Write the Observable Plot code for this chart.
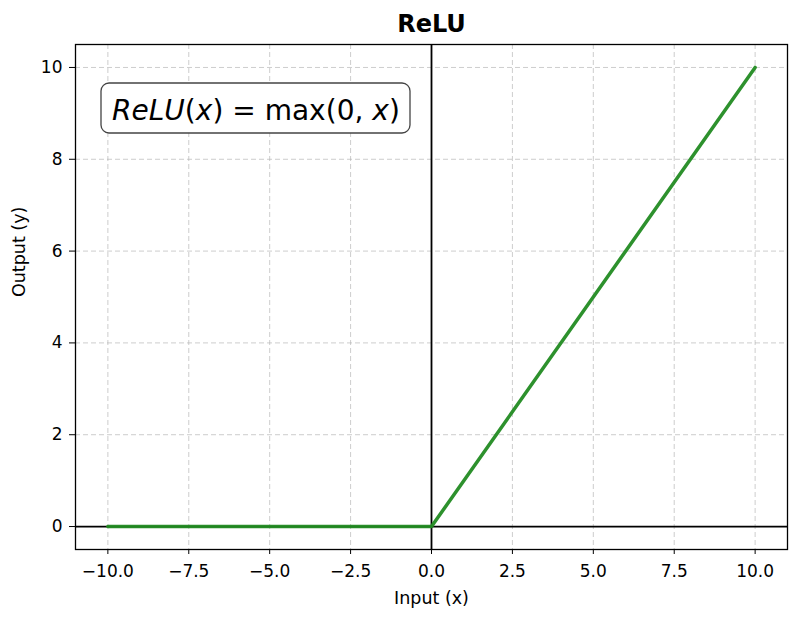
<!DOCTYPE html>
<html>
<head>
<meta charset="utf-8">
<script src="https://cdn.jsdelivr.net/npm/d3@7"></script>
<script src="https://cdn.jsdelivr.net/npm/@observablehq/plot@0.6"></script>
<style>
  html, body { margin: 0; padding: 0; background: white; }
</style>
</head>
<body>
<div id="chart"></div>
<script>
// Data (breakpoints of the ReLU curve)
const inputX = [-10, 0, 10];
const outputY = [0, 0, 10];
const xTicks = [-10, -7.5, -5, -2.5, 0, 2.5, 5, 7.5, 10];
const yTicks = [0, 2, 4, 6, 8, 10];
const titleText = "ReLU";
const xLabel = "Input (x)";
const yLabel = "Output (y)";
// formula pieces: [text, italic]
const formula = [["ReLU", true], ["(", false], ["x", true], [")", false], [" = ", false], ["max(0, ", false], ["x", true], [")", false]];

const data = inputX.map((x, i) => ({x, y: outputY[i]}));

const annotation = (index, scales, values, dims) => {
  const g = d3.create("svg:g");
  const x0 = dims.marginLeft + 26, y0 = dims.marginTop + 39;
  g.append("rect")
    .attr("x", x0).attr("y", y0).attr("width", 309).attr("height", 50)
    .attr("rx", 8).attr("fill", "white").attr("stroke", "#444").attr("stroke-width", 1.3);
  const t = g.append("text")
    .attr("id", "formula")
    .attr("x", x0 + 11).attr("y", y0 + 37)
    .attr("text-anchor", "start")
    .attr("font-family", "DejaVu Sans").attr("font-size", 28).attr("fill", "black");
  formula.forEach(([s, it]) => {
    t.append("tspan").attr("font-style", it ? "italic" : "normal").attr("xml:space", "preserve").text(s);
  });
  return g.node();
};

const chart = Plot.plot({
  width: 800,
  height: 619,
  marginLeft: 75,
  marginRight: 13,
  marginTop: 44,
  marginBottom: 70,
  x: {domain: [-11, 11]},
  y: {domain: [-0.5, 10.5]},
  style: {fontFamily: "DejaVu Sans", fontSize: "17px", background: "white", color: "black"},
  marks: [
    Plot.gridX(xTicks, {stroke: "#b0b0b0", strokeOpacity: 0.7, strokeDasharray: "5,3", strokeWidth: 0.9}),
    Plot.gridY(yTicks, {stroke: "#b0b0b0", strokeOpacity: 0.7, strokeDasharray: "5,3", strokeWidth: 0.9}),
    Plot.ruleY([0], {stroke: "black", strokeWidth: 1.8}),
    Plot.ruleX([0], {stroke: "black", strokeWidth: 1.8}),
    Plot.line(data, {x: "x", y: "y", stroke: "#228B22", strokeWidth: 3.5, strokeOpacity: 0.95}),
    Plot.frame({stroke: "black", strokeWidth: 1.3}),
    Plot.axisX(xTicks, {tickFormat: d3.format(".1f"), tickSize: 5, tickPadding: 10, label: null, fontSize: 17}),
    Plot.axisY(yTicks, {tickSize: 6, tickPadding: 7, label: null, fontSize: 17}),
    Plot.text([titleText], {frameAnchor: "top", lineAnchor: "middle", dy: -20, fontWeight: "bold", fontSize: 24}),
    Plot.text([xLabel], {frameAnchor: "bottom", lineAnchor: "middle", dy: 49, fontSize: 17.5}),
    Plot.text([yLabel], {frameAnchor: "left", lineAnchor: "middle", dx: -56, rotate: -90, fontSize: 17.5}),
    annotation
  ]
});
document.getElementById("chart").appendChild(chart);
// fit formula text width to the reference box
const f = document.getElementById("formula");
if (f && f.getComputedTextLength) {
  const len = f.getComputedTextLength();
  if (len > 0) f.setAttribute("font-size", 28 * 288 / len);
}
</script>
</body>
</html>
